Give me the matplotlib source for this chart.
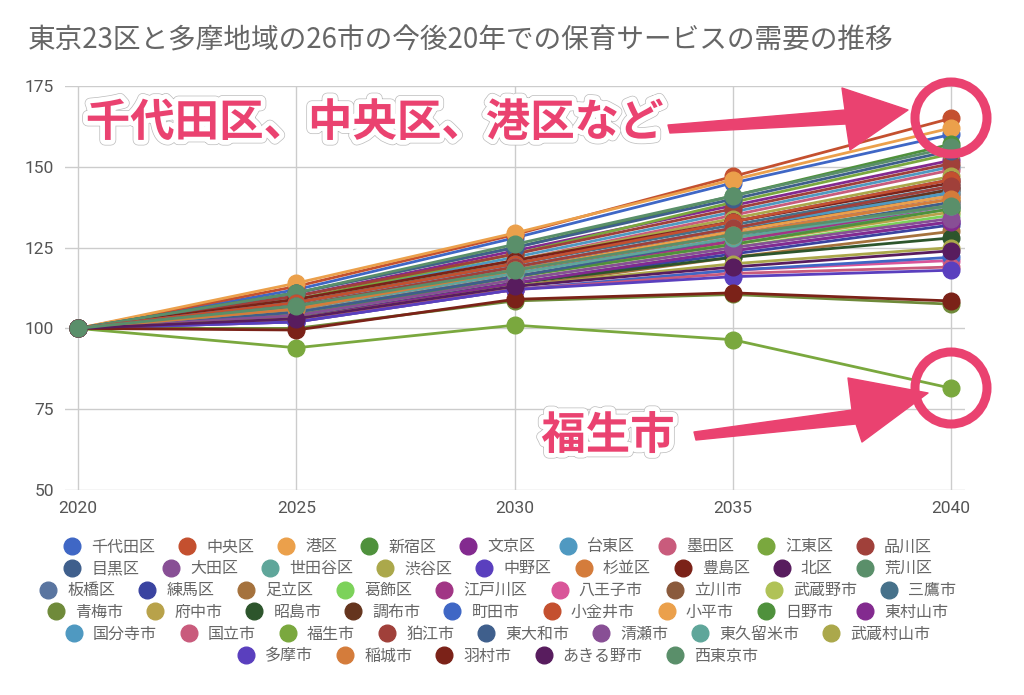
import matplotlib.pyplot as plt
from matplotlib.lines import Line2D
from matplotlib.patches import Polygon, Circle
import matplotlib.patheffects as pe

plt.rcParams['font.family'] = ['Noto Sans CJK JP', 'DejaVu Sans']

title = '東京23区と多摩地域の26市の今後20年での保育サービスの需要の推移'
years = [2020, 2025, 2030, 2035, 2040]

names = ['千代田区', '中央区', '港区', '新宿区', '文京区', '台東区', '墨田区', '江東区', '品川区',
         '目黒区', '大田区', '世田谷区', '渋谷区', '中野区', '杉並区', '豊島区', '北区', '荒川区',
         '板橋区', '練馬区', '足立区', '葛飾区', '江戸川区', '八王子市', '立川市', '武蔵野市', '三鷹市',
         '青梅市', '府中市', '昭島市', '調布市', '町田市', '小金井市', '小平市', '日野市', '東村山市',
         '国分寺市', '国立市', '福生市', '狛江市', '東大和市', '清瀬市', '東久留米市', '武蔵村山市',
         '多摩市', '稲城市', '羽村市', 'あきる野市', '西東京市']

# index, 2020 = 100
v2020 = [100] * 49
v2025 = [112, 113, 114, 111, 110, 109, 108, 109, 110,
         111, 106, 105, 108, 104, 105, 109, 108, 111,
         107, 104, 103, 104, 105, 102, 106, 107, 108,
         100, 105, 103, 106, 102, 108, 106, 104, 103,
         107, 103, 94, 107, 105, 104, 106, 103,
         102, 106, 99.5, 103, 107]
v2030 = [128, 129, 129.5, 125, 124, 122, 121, 123, 123,
         125, 117, 116, 121, 114, 116, 121, 120, 126,
         119, 114, 113, 115, 116, 112, 118, 118, 120,
         108.5, 116, 114, 118, 112, 120, 118, 116, 114,
         119, 112, 101, 119, 116, 115, 117, 113,
         112, 118, 109, 113, 118]
v2035 = [145, 147, 146, 141, 138, 136, 135, 139, 137,
         140, 129, 127, 134, 124, 127, 133, 133, 141,
         131, 123, 122, 125, 127, 118, 130, 129, 132,
         110.5, 126, 122, 130, 118, 133, 130, 126, 124,
         131, 117, 96.5, 131, 128, 125, 128, 120,
         116, 129, 111, 119, 129]
v2040 = [160, 165, 162, 157, 152, 150, 149, 154, 151,
         155, 141, 137, 147, 133, 139, 145, 146, 156,
         143, 132, 130, 135, 138, 121, 142, 140, 144,
         107.5, 136, 128, 143, 122, 146, 141, 137, 133,
         142, 119, 81.5, 144, 139, 134, 138, 125,
         118, 140, 108.5, 124, 138]

palette = ['#3f67c5', '#c4502f', '#eba04b', '#4f913c', '#832a8f', '#4f99c1', '#c95b7c',
           '#7aa83e', '#a0403a', '#3f5f8c', '#884f95', '#5fa69a', '#aba84b', '#5a3fbe',
           '#d47c3b', '#7b2218', '#581c5e', '#5a8f6a', '#5a75a0', '#3a43a0', '#a5723d',
           '#7cd25a', '#a13585', '#d95599', '#8a5a3c', '#b0c257', '#46718a', '#6f8a3a',
           '#b8a24a', '#2d552c', '#65351e']
colors = [palette[i % len(palette)] for i in range(len(names))]

legend_rows = [9, 9, 9, 9, 8, 5]
pink = '#ea4270'

W, H = 1024, 695
fig = plt.figure(figsize=(W / 100, H / 100), dpi=100)
ax = fig.add_axes([65 / W, 1 - 490 / H, 900 / W, 404 / H])

for i, name in enumerate(names):
    ys = [v2020[i], v2025[i], v2030[i], v2035[i], v2040[i]]
    ax.plot(years, ys, color=colors[i], lw=2, marker='o', ms=12, mec=colors[i], label=name)

ax.set_xlim(2019.70, 2040.32)
ax.set_ylim(50, 175)
ax.set_xticks(years)
ax.set_yticks([50, 75, 100, 125, 150, 175])
ax.grid(color='#cccccc', lw=1)
ax.set_axisbelow(True)
for s in ax.spines.values():
    s.set_visible(False)
ax.tick_params(length=0, pad=8, labelsize=12.5, labelcolor='#555555')
for lab in ax.get_xticklabels() + ax.get_yticklabels():
    lab.set_family('Roboto')

fig.text(28 / W, 1 - 40 / H, title, fontsize=19.9, color='#666666', va='center')

# legend, one centered row at a time
start = 0
for r, n in enumerate(legend_rows):
    handles = [Line2D([], [], ls='none', marker='o', ms=12, color=colors[k])
               for k in range(start, start + n)]
    fig.legend(handles, names[start:start + n], loc='center', ncol=n,
               bbox_to_anchor=(498 / W, 1 - (547 + r * 21.8) / H),
               frameon=False, fontsize=11.5, labelcolor='#666666',
               handlelength=1.0, handletextpad=0.7, columnspacing=1.5,
               borderpad=0, borderaxespad=0)
    start += n


def px(x, y):
    return (x / 100, (H - y) / 100)


halo = [pe.Stroke(linewidth=8, foreground='#bbbbbb'),
        pe.Stroke(linewidth=7, foreground='white'), pe.Normal()]
fig.text(375 / W, 1 - 123 / H, '千代田区、中央区、港区など', fontsize=32, weight='bold',
         color=pink, ha='center', va='center', zorder=10, path_effects=halo)
fig.text(608 / W, 1 - 436 / H, '福生市', fontsize=32, weight='bold',
         color=pink, ha='center', va='center', zorder=10, path_effects=halo)

arrow1 = [px(668, 125), px(845, 110), px(842, 88), px(908, 110),
          px(850, 150), px(846, 124), px(670, 133)]
arrow2 = [px(694, 432), px(852, 410), px(848, 378), px(928, 393),
          px(862, 442), px(856, 424), px(696, 440)]
for pts in (arrow1, arrow2):
    fig.add_artist(Polygon(pts, closed=True, facecolor=pink, edgecolor=pink, lw=1,
                           joinstyle='round', transform=fig.dpi_scale_trans, zorder=9))
for cy in (118, 388):
    fig.add_artist(Circle(px(951, cy), 0.36, fill=False, edgecolor=pink, lw=6.5,
                          transform=fig.dpi_scale_trans, zorder=9))

fig.savefig('out.png', dpi=100)
